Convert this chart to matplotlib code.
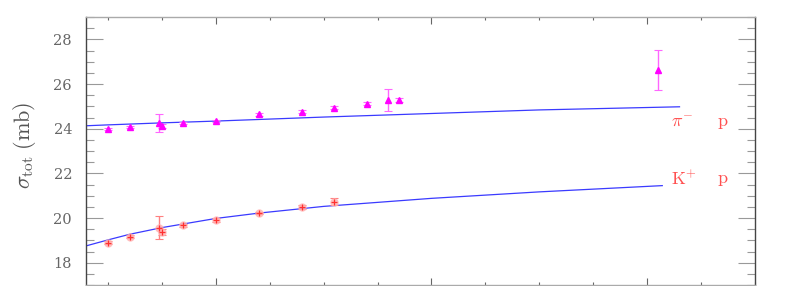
import matplotlib
matplotlib.use("Agg")
import matplotlib.pyplot as plt
from matplotlib.ticker import MultipleLocator

plt.rcParams['mathtext.fontset'] = 'cm'
plt.rcParams['font.family'] = 'DejaVu Serif'

# pi- p data (magenta)
pim_x = [0.50, 0.60, 0.735, 0.75, 0.85, 1.00, 1.20, 1.40, 1.55, 1.70, 1.80, 1.85, 3.05]
pim_y = [23.97, 24.09, 24.27, 24.12, 24.24, 24.34, 24.64, 24.76, 24.94, 25.12, 25.28, 25.28, 26.62]
pim_err = [0.05, 0.04, 0.40, 0.08, 0.05, 0.05, 0.05, 0.07, 0.07, 0.07, 0.50, 0.08, 0.90]

# K+ p data (red)
kp_x = [0.50, 0.60, 0.735, 0.75, 0.85, 1.00, 1.20, 1.40, 1.55]
kp_y = [18.90, 19.17, 19.57, 19.37, 19.67, 19.91, 20.24, 20.49, 20.72]
kp_err = [0.06, 0.05, 0.50, 0.12, 0.06, 0.08, 0.05, 0.07, 0.16]

# fit curves (blue)
pim_fit_x = [0.398, 0.5, 0.75, 1.0, 1.5, 2.0, 2.5, 3.15]
pim_fit_y = [24.13, 24.17, 24.26, 24.34, 24.52, 24.68, 24.84, 24.98]
kp_fit_x = [0.398, 0.5, 0.6, 0.75, 1.0, 1.2, 1.5, 2.0, 2.5, 3.07]
kp_fit_y = [18.75, 19.02, 19.27, 19.57, 19.98, 20.22, 20.52, 20.88, 21.17, 21.45]

fig = plt.figure(figsize=(7.97, 2.86), dpi=100)
ax = fig.add_axes([0.1079, 0.0035, 0.8394, 0.937])

ax.plot(pim_fit_x, pim_fit_y, color='#3a3aff', lw=0.9)
ax.plot(kp_fit_x, kp_fit_y, color='#3a3aff', lw=0.9)

ax.errorbar(pim_x, pim_y, yerr=pim_err, fmt='none', ecolor='#ff66ff',
            elinewidth=1.0, capsize=3, capthick=0.8)
ax.plot(pim_x, pim_y, '^', color='#ff00ff', ms=4.5, mec='#ff00ff')

ax.errorbar(kp_x, kp_y, yerr=kp_err, fmt='none', ecolor='#ff8080',
            elinewidth=1.0, capsize=3, capthick=0.8)
ax.plot(kp_x, kp_y, 'o', color='#ffb0b0', ms=6, alpha=0.8, mec='none')
ax.plot(kp_x, kp_y, '+', color='#ff3030', ms=5, mew=0.9)

ax.text(3.11, 24.3, r'$\pi^{-}$', color='#ff5050', fontsize=13, va='center')
ax.text(3.325, 24.3, r'$\mathrm{p}$', color='#ff5050', fontsize=13, va='center')
ax.text(3.11, 21.73, r'$\mathrm{K}^{+}$', color='#ff5050', fontsize=13, va='center')
ax.text(3.325, 21.73, r'$\mathrm{p}$', color='#ff5050', fontsize=13, va='center')

ax.set_xlim(0.398, 3.5)
ax.set_ylim(17, 29)
ax.xaxis.set_major_locator(MultipleLocator(1))
ax.xaxis.set_minor_locator(MultipleLocator(0.25))
ax.yaxis.set_major_locator(MultipleLocator(2))
ax.yaxis.set_minor_locator(MultipleLocator(0.5))

ax.tick_params(axis='y', which='major', direction='in', left=True, right=True,
               length=12, width=0.8, color='#999999', labelsize=10.5, labelcolor='#666666', pad=10)
ax.tick_params(axis='y', which='minor', direction='in', left=True, right=True,
               length=6, width=0.8, color='#999999')
ax.tick_params(axis='x', which='major', direction='in', top=True, bottom=True,
               length=5, width=0.8, color='#666666', labelbottom=False)
ax.tick_params(axis='x', which='minor', direction='in', top=True, bottom=True,
               length=2.5, width=0.8, color='#666666')

for side in ['left', 'right']:
    ax.spines[side].set_color('#444444')
    ax.spines[side].set_linewidth(1.0)
for side in ['top', 'bottom']:
    ax.spines[side].set_color('#aaaaaa')
    ax.spines[side].set_linewidth(1.0)

ax.set_ylabel(r'$\sigma_{\rm tot}\;({\rm mb})$', fontsize=16, color='#555555')
ax.yaxis.set_label_coords(-0.072, 0.52)

plt.savefig('out.png', dpi=100)
